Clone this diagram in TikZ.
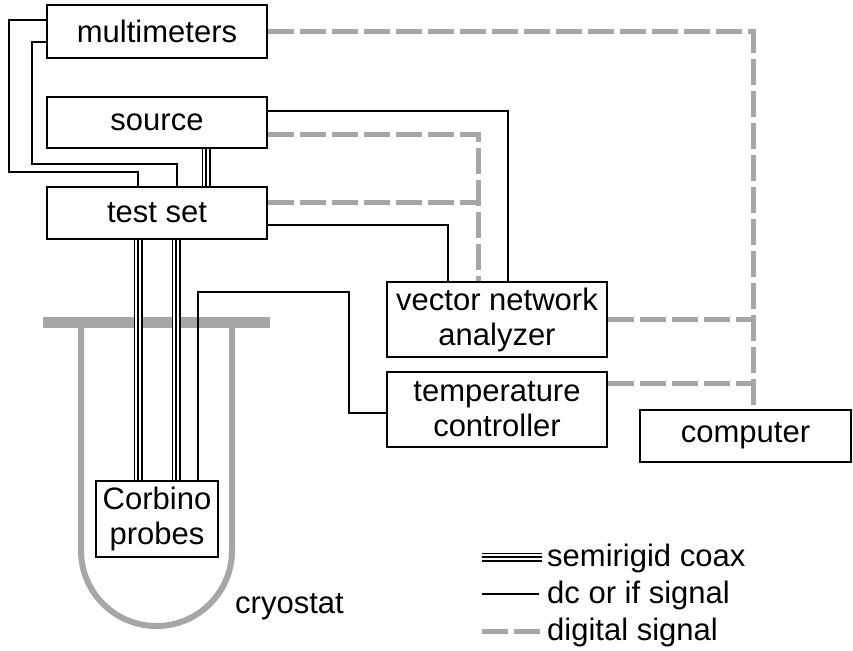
\documentclass[tikz,border=0pt]{standalone}
\usepackage{fontspec}
\setmainfont{Liberation Sans}
\definecolor{dgray}{HTML}{A6A6A6}
\begin{document}
\begin{tikzpicture}[x=1pt,y=-1pt,
  txt/.style={font=\fontsize{31}{35}\selectfont, inner sep=0pt},
  box/.style={txt, draw, line width=2pt, align=center},
  sig/.style={line width=2pt, line join=miter},
  dig/.style={line width=5pt, draw=dgray, dash pattern=on 26pt off 6pt},
  coax/.style={line width=9pt, postaction={draw=white, line width=6pt}, postaction={draw=black, line width=1.5pt}},
  cryo/.style={draw=dgray, line width=6pt}]
\useasboundingbox (0,0) rectangle (853,650);

% cryostat
\draw[draw=dgray, line width=10.5pt] (43,322.5) -- (270,322.5);
\draw[cryo] (81,327) -- (81,550.5) arc[start angle=180, end angle=360, radius=75.5pt] -- (232,327);
\node[txt, anchor=base west] (cry) at (235,613) {cryostat};

% boxes
\node[box, minimum width=220pt, minimum height=53pt] (mm) at (157,31.5) {multimeters};
\node[box, minimum width=220pt, minimum height=51pt] (src) at (157,122.5) {source};
\node[box, minimum width=220pt, minimum height=52pt] (ts) at (157,213) {test set};
\node[box, minimum width=220pt, minimum height=75pt] (vna) at (497,319.5) {vector network\\analyzer};
\node[box, minimum width=220pt, minimum height=75pt] (tc) at (497,409.5) {temperature\\controller};
\node[box, minimum width=211pt, minimum height=52pt] (pc) at (745.5,436) {computer};
\node[box, minimum width=122pt, minimum height=76pt] (cp) at (157,519) {Corbino\\probes};

% dc / if signals
\draw[sig] (mm.west |- 0,20) -- (9,20) -- (9,172) -- (138,172) -- (138,0 |- ts.north);
\draw[sig] (mm.west |- 0,42) -- (32,42) -- (32,164) -- (177,164) -- (177,0 |- ts.north);
\draw[sig] (src.east |- 0,111) -- (508,111) -- (508,0 |- vna.north);
\draw[sig] (ts.east |- 0,225) -- (448,225) -- (448,0 |- vna.north);
\draw[sig] (198,0 |- cp.north) -- (198,292) -- (349,292) -- (349,413) -- (tc.west |- 0,413);

% semirigid coax
\draw[coax] (206,0 |- src.south) -- (206,0 |- ts.north);
\draw[coax] (138,0 |- ts.south) -- (138,0 |- cp.north);
\draw[coax] (176,0 |- ts.south) -- (176,0 |- cp.north);

% digital signals
\draw[dig] (mm.east |- 0,32) -- (753,32) -- (753,0 |- pc.north);
\draw[dig] (src.east |- 0,134) -- (478,134) -- (478,0 |- vna.north);
\draw[dig] (ts.east |- 0,202) -- (478,202);
\draw[dig] (vna.east |- 0,319) -- (753,319);
\draw[dig] (tc.east |- 0,383) -- (753,383);

% legend
\node[txt, anchor=base west] (l1) at (547,566) {semirigid coax};
\node[txt, anchor=base west] (l2) at (547,603) {dc or if signal};
\node[txt, anchor=base west] (l3) at (547,640) {digital signal};
\draw[coax] (482,557) -- (542,557);
\draw[sig] (482,594) -- (539,594);
\draw[dig] (482,631) -- (541,631);
\end{tikzpicture}
\end{document}
